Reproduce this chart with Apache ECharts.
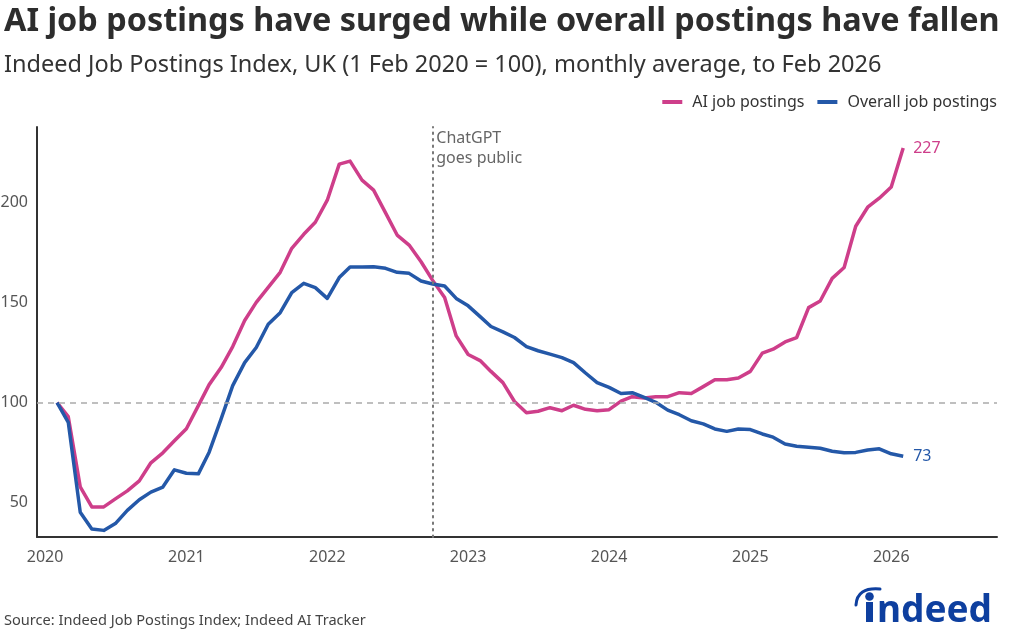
<!DOCTYPE html>
<html>
<head>
<meta charset="utf-8">
<script src="https://cdn.jsdelivr.net/npm/echarts@6/dist/echarts.min.js"></script>
<style>
html,body{margin:0;padding:0;background:#fff;}
#c{width:1024px;height:640px;}
</style>
</head>
<body>
<div id="c"></div>
<script>
// Months: Feb 2020 .. Feb 2026
const months = [
 '2020-02-01','2020-03-01','2020-04-01','2020-05-01','2020-06-01','2020-07-01','2020-08-01','2020-09-01','2020-10-01','2020-11-01','2020-12-01',
 '2021-01-01','2021-02-01','2021-03-01','2021-04-01','2021-05-01','2021-06-01','2021-07-01','2021-08-01','2021-09-01','2021-10-01','2021-11-01','2021-12-01',
 '2022-01-01','2022-02-01','2022-03-01','2022-04-01','2022-05-01','2022-06-01','2022-07-01','2022-08-01','2022-09-01','2022-10-01','2022-11-01','2022-12-01',
 '2023-01-01','2023-02-01','2023-03-01','2023-04-01','2023-05-01','2023-06-01','2023-07-01','2023-08-01','2023-09-01','2023-10-01','2023-11-01','2023-12-01',
 '2024-01-01','2024-02-01','2024-03-01','2024-04-01','2024-05-01','2024-06-01','2024-07-01','2024-08-01','2024-09-01','2024-10-01','2024-11-01','2024-12-01',
 '2025-01-01','2025-02-01','2025-03-01','2025-04-01','2025-05-01','2025-06-01','2025-07-01','2025-08-01','2025-09-01','2025-10-01','2025-11-01','2025-12-01',
 '2026-01-01','2026-02-01'
];
const aiPostings = [
 100, 93, 58, 48, 48, 52, 56, 61, 70, 75, 81,
 87, 98.5, 109, 117.5, 128, 141, 150, 157.5, 165, 177, 184, 190,
 201, 219, 220.5, 211, 206, 194.7, 183.6, 178.6, 170.3, 161, 152.4, 133.3,
 124, 121, 115.6, 110, 100.6, 95, 95.7, 97.5, 96, 98.7, 96.7, 96,
 96.5, 100.8, 103, 102.3, 103, 103, 105, 104.6, 108, 111.4, 111.4, 112.3,
 115.6, 124.7, 126.7, 130.3, 132.5, 147.4, 150.7, 162, 167.4, 188, 197.5, 202,
 207.6, 227
];
const overallPostings = [
 100, 90.2, 45.4, 37, 36.3, 39.7, 46.3, 51.6, 55.4, 57.9, 66.5,
 64.8, 64.5, 75.3, 91.9, 108.5, 120, 127.5, 139.1, 144.9, 154.9, 159.5, 157.4,
 152, 162.4, 167.7, 167.7, 167.8, 167, 165, 164.5, 160.7, 159.2, 158.2, 152,
 148.3, 142.9, 138, 135.3, 132.5, 128, 125.9, 124.2, 122.5, 120, 114.8, 110,
 107.6, 104.6, 105, 102.6, 100.2, 96.3, 94, 91, 89.4, 86.9, 85.7, 86.9,
 86.6, 84.4, 82.8, 79.4, 78.3, 77.8, 77.3, 75.8, 75, 75.2, 76.4, 77,
 74.5, 73.3
];
const yearTicks = ['2020-01-01','2021-01-01','2022-01-01','2023-01-01','2024-01-01','2025-01-01','2026-01-01'];
const yTicks = [50, 100, 150, 200];
const chatgptDate = '2022-09-30';
const baseline = 100;

const PINK = '#CE3E8A';
const BLUE = '#2458A8';
const FONT = 'Noto Sans';
const ts = d => Date.UTC(+d.slice(0, 4), +d.slice(5, 7) - 1, +d.slice(8, 10));

const chart = echarts.init(document.getElementById('c'), null, {renderer: 'canvas'});
const option = {
  animation: false,
  backgroundColor: '#fff',
  textStyle: {fontFamily: FONT},
  title: [
    {text: 'AI job postings have surged while overall postings have fallen', left: -1, top: 1,
     textStyle: {fontFamily: FONT, fontSize: 32.4, fontWeight: 'bold', color: '#2d2d2d'}},
    {text: 'Indeed Job Postings Index, UK (1 Feb 2020 = 100), monthly average, to Feb 2026', left: -1, top: 48,
     textStyle: {fontFamily: FONT, fontSize: 23.5, fontWeight: 'normal', color: '#333'}},
    {text: 'Source: Indeed Job Postings Index; Indeed AI Tracker', left: -1, top: 608,
     textStyle: {fontFamily: FONT, fontSize: 14.6, fontWeight: 'normal', color: '#444'}}
  ],
  legend: {
    right: 22, top: 89, itemWidth: 20, itemHeight: 4, itemGap: 13, icon: 'rect',
    textStyle: {fontFamily: FONT, fontSize: 16, color: '#333', padding: [0, 0, 0, 5]},
    data: ['AI job postings', 'Overall job postings']
  },
  grid: {left: 37, right: 27, top: 127, bottom: 103, containLabel: false, outerBoundsMode: 'none'},
  xAxis: {
    type: 'value',
    min: ts('2019-12-11'), max: ts('2026-10-02'),
    axisLine: {show: true, lineStyle: {color: '#333', width: 2}},
    axisTick: {show: false},
    splitLine: {show: false},
    axisLabel: {
      customValues: yearTicks.map(ts),
      formatter: v => String(new Date(v).getUTCFullYear()),
      fontFamily: FONT, fontSize: 16, color: '#555', margin: 12
    }
  },
  yAxis: {
    type: 'value', min: 33, max: 237.5,
    axisLine: {show: true, lineStyle: {color: '#333', width: 2}},
    axisTick: {show: false},
    splitLine: {show: false},
    axisLabel: {customValues: yTicks, fontFamily: FONT, fontSize: 16, color: '#555', margin: 9}
  },
  series: [
    {
      name: 'AI job postings', type: 'line', symbol: 'none', z: 3,
      data: months.map((m, i) => [ts(m), aiPostings[i]]),
      lineStyle: {color: PINK, width: 3.5, join: 'round'},
      itemStyle: {color: PINK},
      endLabel: {show: true, distance: 10, color: PINK, fontFamily: FONT, fontSize: 16,
        formatter: p => String(Math.round(p.value[1]))},
      markLine: {
        silent: true, symbol: 'none', animation: false,
        label: {show: false},
        data: [
          {xAxis: ts(chatgptDate), lineStyle: {color: '#777', width: 2, type: [1.5, 5], cap: 'round'}},
          {yAxis: baseline, lineStyle: {color: '#aaa', width: 1.5, type: [6, 5]}}
        ]
      }
    },
    {
      name: 'Overall job postings', type: 'line', symbol: 'none', z: 4,
      data: months.map((m, i) => [ts(m), overallPostings[i]]),
      lineStyle: {color: BLUE, width: 3.5, join: 'round'},
      itemStyle: {color: BLUE},
      endLabel: {show: true, distance: 10, color: BLUE, fontFamily: FONT, fontSize: 16,
        formatter: p => String(Math.round(p.value[1]))}
    }
  ]
};
chart.setOption(option);

const px = chart.convertToPixel({xAxisIndex: 0}, ts(chatgptDate));
const topY = chart.convertToPixel({yAxisIndex: 0}, 237.5);
const LOGO = '#0E3F9F';
chart.setOption({
  graphic: [
    {type: 'text', left: px + 4, top: topY + 1, silent: true,
     style: {text: 'ChatGPT\ngoes public', fill: '#666', font: '16px "Noto Sans"', lineHeight: 20}},
    // indeed logo
    {type: 'rect', shape: {x: 866, y: 602, width: 7, height: 20}, style: {fill: LOGO}, silent: true},
    {type: 'circle', shape: {cx: 869.5, cy: 596.5, r: 4.3}, style: {fill: LOGO}, silent: true},
    {type: 'bezierCurve', shape: {x1: 856, y1: 605, cpx1: 857, cpy1: 587, x2: 880, y2: 589},
     style: {stroke: LOGO, lineWidth: 3, fill: null, lineCap: 'round'}, silent: true},
    {type: 'text', x: 877, y: 629.5, silent: true,
     style: {text: 'ndeed', fill: LOGO, font: 'bold 37px "Noto Sans"', verticalAlign: 'bottom'}}
  ]
});
</script>
</body>
</html>
